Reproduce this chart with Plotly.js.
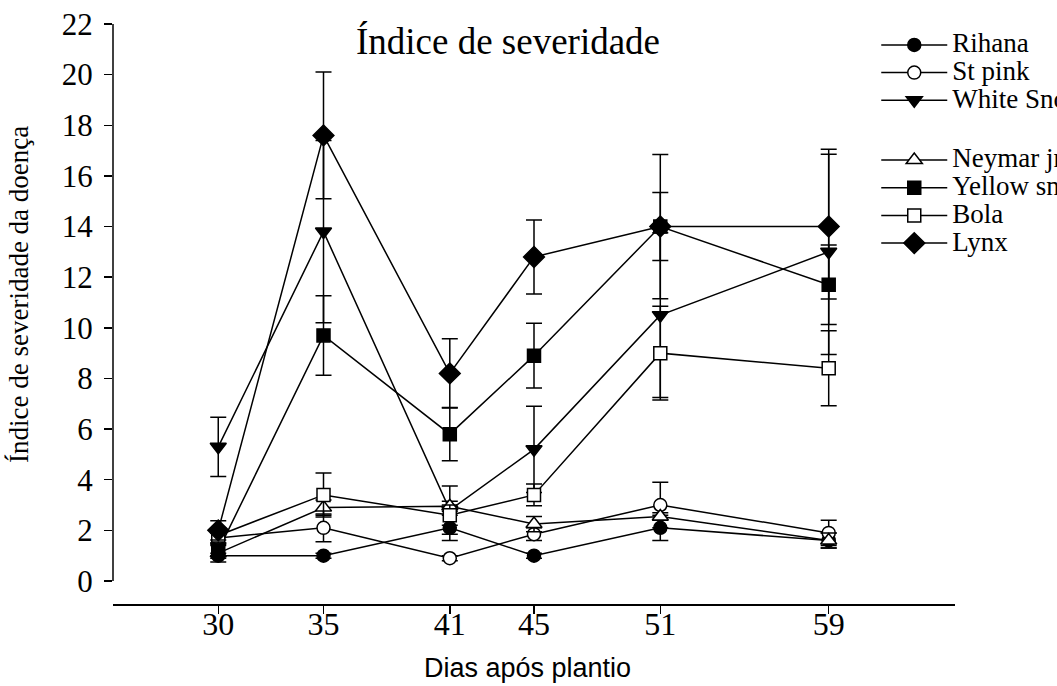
<!DOCTYPE html>
<html>
<head>
<meta charset="utf-8">
<script src="https://cdn.plot.ly/plotly-3.0.1.min.js"></script>
<style>
  html, body { margin: 0; padding: 0; background: #fff; overflow: hidden; }
  #chart { width: 1057px; height: 686px; }
</style>
</head>
<body>
<div id="chart"></div>
<script>
// Days after planting (x axis)
const days = [30, 35, 41, 45, 51, 59];

// Disease severity index per cultivar (mean) and its error (±)
const rihana      = [1.0, 1.0, 2.1, 1.0, 2.1, 1.6];
const rihanaErr   = [0.1, 0.1, 0.5, 0.1, 0.5, 0.3];

const stPink      = [1.7, 2.1, 0.9, 1.85, 3.0, 1.9];
const stPinkErr   = [0.2, 0.55, 0.1, 0.25, 0.9, 0.5];

const whiteSnow   = [5.3, 13.8, 2.8, 5.2, 10.5, 13.0];
const whiteSnowErr= [1.17, 3.6, 0.95, 1.7, 3.25, 4.05];

const neymar      = [1.1, 2.9, 2.95, 2.25, 2.55, 1.6];
const neymarErr   = [0.35, 0.3, 0.2, 0.3, 0.15, 0.3];

const yellowSnow  = [1.2, 9.7, 5.8, 8.9, 14.0, 11.7];
const yellowSnowErr = [0.2, 1.57, 1.05, 1.28, 1.34, 1.57];

const bola        = [1.8, 3.4, 2.6, 3.4, 9.0, 8.4];
const bolaErr     = [0.3, 0.87, 0.4, 0.43, 1.85, 1.48];

const lynx        = [2.0, 17.6, 8.2, 12.8, 14.0, 14.0];
const lynxErr     = [0.38, 2.5, 1.37, 1.46, 2.85, 2.86];

const seriesNames = ['Rihana', 'St pink', 'White Snow', 'Neymar jr', 'Yellow snow', 'Bola', 'Lynx'];

const SERIF = 'Liberation Serif, "Times New Roman", serif';
const SANS = 'Liberation Sans, Arial, sans-serif';

// legend rows keep a compact pitch while the label glyphs are drawn larger
const legendLabel = name => '<span style="font-size:27px">' + name + '</span>';

function series(name, y, err, symbol, fill, size, group) {
  return {
    type: 'scatter',
    mode: 'lines+markers',
    name: legendLabel(name),
    legendgroup: group,
    x: days,
    y: y,
    line: { color: '#000', width: 1.5 },
    marker: { symbol: symbol, size: size, color: fill, line: { color: '#000', width: 1.5 } },
    error_y: { type: 'data', array: err, visible: true, color: '#000', thickness: 1.5, width: 8 },
    cliponaxis: false
  };
}

const traces = [
  series(seriesNames[0], rihana, rihanaErr, 'circle', '#000', 13, 'a'),
  series(seriesNames[1], stPink, stPinkErr, 'circle', '#fff', 13, 'a'),
  series(seriesNames[2], whiteSnow, whiteSnowErr, 'triangle-down', '#000', 14, 'a'),
  series(seriesNames[3], neymar, neymarErr, 'triangle-up', '#fff', 14, 'b'),
  series(seriesNames[4], yellowSnow, yellowSnowErr, 'square', '#000', 13, 'b'),
  series(seriesNames[5], bola, bolaErr, 'square', '#fff', 13, 'b'),
  series(seriesNames[6], lynx, lynxErr, 'diamond', '#000', 16, 'b')
];

const layout = {
  width: 1057,
  height: 686,
  margin: { l: 113, r: 102, t: 24, b: 82, pad: 0, autoexpand: false },
  paper_bgcolor: '#fff',
  plot_bgcolor: '#fff',
  showlegend: true,
  title: {
    text: 'Índice de severidade',
    font: { family: SERIF, size: 37, color: '#000' },
    xref: 'container', x: 0.4806, xanchor: 'center',
    yref: 'container', y: 0.94, yanchor: 'middle'
  },
  xaxis: {
    range: [25, 65],
    tickmode: 'array',
    tickvals: days,
    ticktext: days.map(String),
    ticks: 'outside', ticklen: 8, tickwidth: 1.5, tickcolor: '#000',
    ticklabelstandoff: -17,
    showline: true, linewidth: 1.5, linecolor: '#000',
    showgrid: false, zeroline: false,
    tickfont: { family: SERIF, size: 32, color: '#000' }
  },
  yaxis: {
    range: [-0.9085, 22],
    tickmode: 'linear', tick0: 0, dtick: 2,
    ticks: 'outside', ticklen: 8, tickwidth: 1.5, tickcolor: '#000',
    ticklabelstandoff: 5,
    showline: false, showgrid: false, zeroline: false,
    tickfont: { family: SERIF, size: 31, color: '#000' }
  },
  annotations: [
    // axis titles
    { text: 'Dias após plantio', xref: 'paper', yref: 'paper', x: 0.4917, y: -0.1103,
      xanchor: 'center', yanchor: 'middle', showarrow: false,
      font: { family: SANS, size: 27, color: '#000' } },
    { text: 'Índice de severidade da doença', xref: 'paper', yref: 'paper', x: -0.1116, y: 0.5328,
      xanchor: 'center', yanchor: 'middle', showarrow: false, textangle: -90,
      font: { family: SERIF, size: 27, color: '#000' } }
  ],
  shapes: [
    // vertical axis spans only the 0–22 value range
    { type: 'line', xref: 'paper', yref: 'y', x0: 0, x1: 0, y0: 0, y1: 22,
      line: { color: '#000', width: 1.5 } }
  ],
  legend: {
    xref: 'container', yref: 'container',
    x: 0.829, y: 0.962, xanchor: 'left', yanchor: 'top',
    font: { family: SERIF, size: 19, color: '#000' },
    bgcolor: 'rgba(0,0,0,0)',
    borderwidth: 0,
    traceorder: 'grouped',
    tracegroupgap: 32,
    itemwidth: 66
  }
};

Plotly.newPlot('chart', traces, layout, { displayModeBar: false, staticPlot: true });
</script>
</body>
</html>
